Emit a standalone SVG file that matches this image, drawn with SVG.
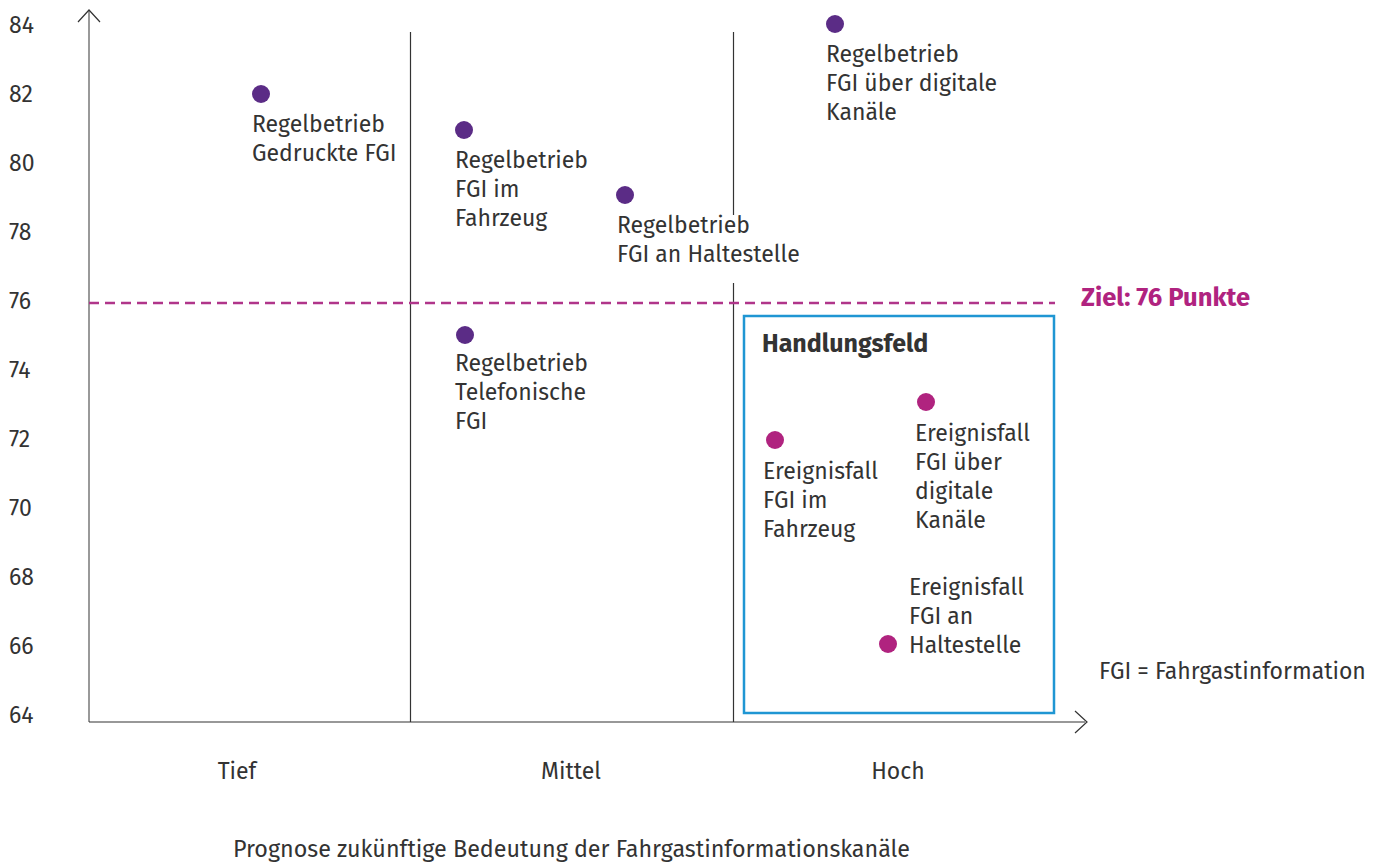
<svg xmlns="http://www.w3.org/2000/svg" width="1385" height="865" viewBox="0 0 1385 865">
  <style>
    text { font-family: "Fira Sans", "Noto Sans", "Liberation Sans", sans-serif; fill: #333333; }
    .tick { font-size: 23px; }
    .lbl { font-size: 23px; }
    .dot-r { fill: #5b2c86; }
    .dot-e { fill: #b0237f; }
    .axis { stroke: #333333; stroke-width: 1.2; fill: none; }
    .div { stroke: #333333; stroke-width: 1.2; }
  </style>
  <rect width="1385" height="865" fill="#ffffff"/>

  <!-- axes and grid -->
  <g id="axes">
    <line x1="89" y1="11" x2="89" y2="722" stroke="#777777" stroke-width="1.5"/>
    <polyline class="axis" points="78,22 89,10 100,22"/>
    <line x1="89" y1="722" x2="1085" y2="722" class="axis"/>
    <polyline class="axis" points="1075,711 1087,722 1075,733"/>
    <line class="div" x1="410.5" y1="32" x2="410.5" y2="722"/>
    <line class="div" x1="733.5" y1="32" x2="733.5" y2="215"/>
    <line class="div" x1="733.5" y1="283" x2="733.5" y2="722"/>
  </g>

  <g id="y-ticks" class="tick">
    <text x="9" y="33">84</text>
    <text x="9" y="102">82</text>
    <text x="9" y="171">80</text>
    <text x="9" y="240">78</text>
    <text x="9" y="309">76</text>
    <text x="9" y="378">74</text>
    <text x="9" y="447">72</text>
    <text x="9" y="516">70</text>
    <text x="9" y="585">68</text>
    <text x="9" y="654">66</text>
    <text x="9" y="723">64</text>
  </g>

  <g id="x-ticks" class="tick" text-anchor="middle">
    <text x="237" y="779">Tief</text>
    <text x="571" y="779">Mittel</text>
    <text x="898" y="779">Hoch</text>
  </g>

  <g id="x-title">
    <text x="233" y="857" font-size="23.3">Prognose zukünftige Bedeutung der Fahrgastinformationskanäle</text>
  </g>

  <!-- target line -->
  <g id="target">
    <line x1="89" y1="303" x2="1055" y2="303" stroke="#b0358a" stroke-width="2.5" stroke-dasharray="10,6"/>
    <text x="1081" y="306" font-size="25.6" font-weight="bold" style="fill:#b0237f">Ziel: 76 Punkte</text>
  </g>

  <!-- action field -->
  <g id="handlungsfeld">
    <rect x="744" y="316" width="310" height="397" fill="none" stroke="#1f96d3" stroke-width="2.5"/>
    <text x="762" y="352" font-size="25" font-weight="bold">Handlungsfeld</text>
  </g>

  <g id="regel-gedruckt" class="lbl">
    <circle class="dot-r" cx="261" cy="94" r="9"/>
    <text x="252" y="132">Regelbetrieb</text>
    <text x="252" y="161">Gedruckte FGI</text>
  </g>

  <g id="regel-fahrzeug" class="lbl">
    <circle class="dot-r" cx="464" cy="130" r="9"/>
    <text x="455" y="168">Regelbetrieb</text>
    <text x="455" y="197">FGI im</text>
    <text x="455" y="226">Fahrzeug</text>
  </g>

  <g id="regel-haltestelle" class="lbl">
    <circle class="dot-r" cx="625" cy="195" r="9"/>
    <text x="617" y="233">Regelbetrieb</text>
    <text x="617" y="262">FGI an Haltestelle</text>
  </g>

  <g id="regel-digital" class="lbl">
    <circle class="dot-r" cx="835" cy="24" r="9"/>
    <text x="826" y="62">Regelbetrieb</text>
    <text x="826" y="91">FGI über digitale</text>
    <text x="826" y="120">Kanäle</text>
  </g>

  <g id="regel-telefon" class="lbl">
    <circle class="dot-r" cx="465" cy="335" r="9"/>
    <text x="455" y="371">Regelbetrieb</text>
    <text x="455" y="400">Telefonische</text>
    <text x="455" y="429">FGI</text>
  </g>

  <g id="ereignis-fahrzeug" class="lbl">
    <circle class="dot-e" cx="775" cy="440" r="9"/>
    <text x="763" y="479">Ereignisfall</text>
    <text x="763" y="508">FGI im</text>
    <text x="763" y="537">Fahrzeug</text>
  </g>

  <g id="ereignis-digital" class="lbl">
    <circle class="dot-e" cx="926" cy="402" r="9"/>
    <text x="915" y="441">Ereignisfall</text>
    <text x="915" y="470">FGI über</text>
    <text x="915" y="499">digitale</text>
    <text x="915" y="528">Kanäle</text>
  </g>

  <g id="ereignis-haltestelle" class="lbl">
    <circle class="dot-e" cx="888" cy="644" r="9"/>
    <text x="909" y="595">Ereignisfall</text>
    <text x="909" y="624">FGI an</text>
    <text x="909" y="653">Haltestelle</text>
  </g>

  <g id="legend">
    <text x="1099" y="679" font-size="23">FGI = Fahrgastinformation</text>
  </g>
</svg>
